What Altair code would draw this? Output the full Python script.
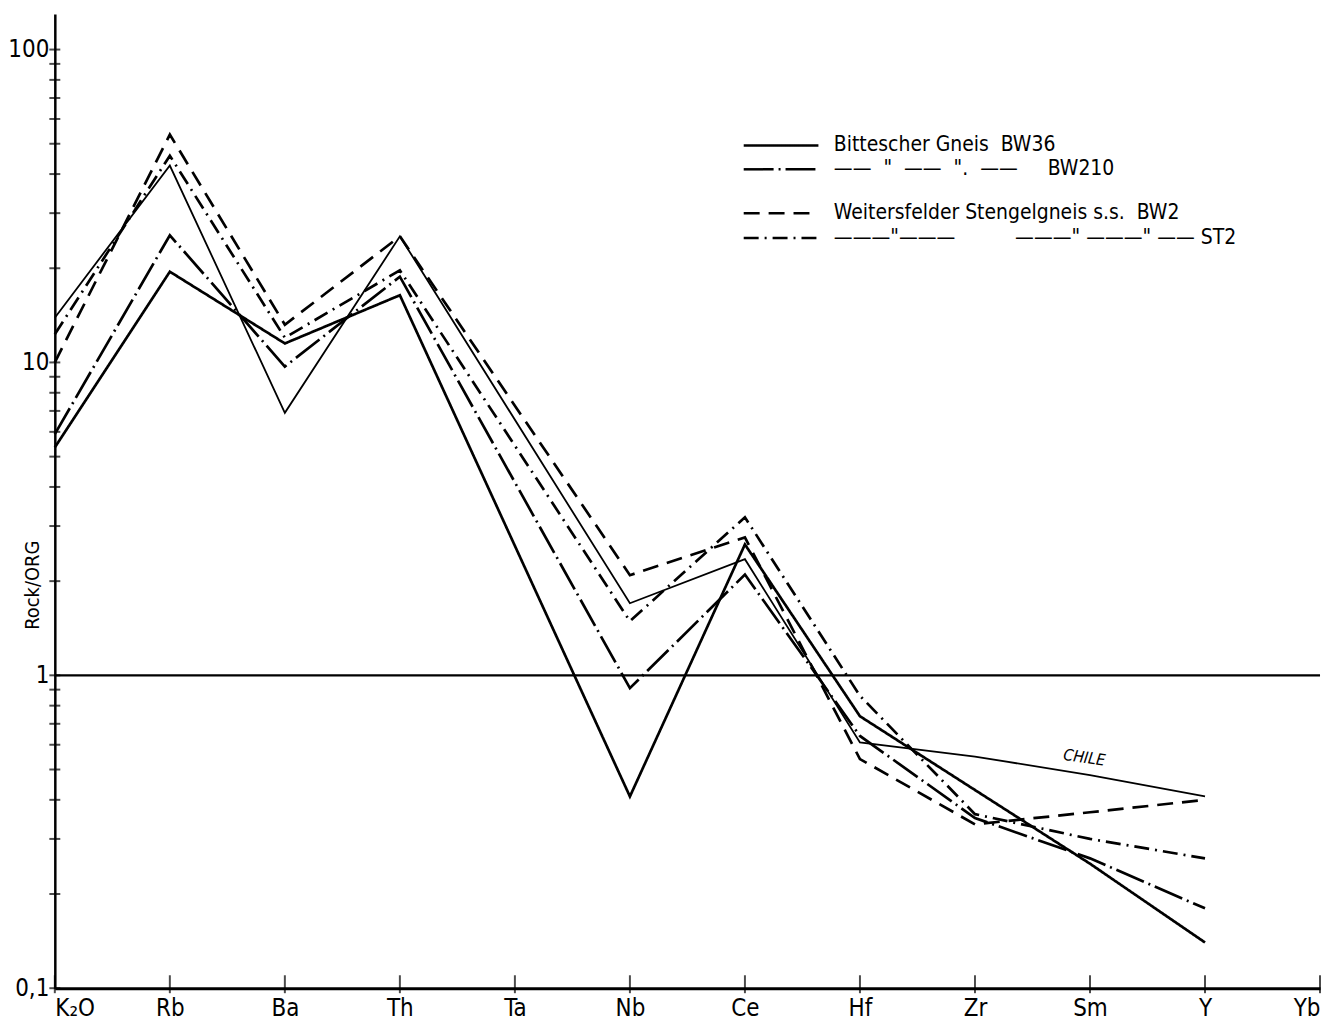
import altair as alt
import pandas as pd

# ---- data ----
categories = ["K₂O", "Rb", "Ba", "Th", "Ta", "Nb", "Ce", "Hf", "Zr", "Sm", "Y", "Yb"]
plotted = ["K₂O", "Rb", "Ba", "Th", "Nb", "Ce", "Hf", "Zr", "Sm", "Y"]

bw36 = [5.35, 19.5, 11.5, 16.4, 0.41, 2.62, 0.74, 0.43, 0.25, 0.14]
bw210 = [5.9, 25.5, 9.7, 18.8, 0.91, 2.10, 0.64, 0.35, 0.26, 0.18]
bw2 = [10.0, 53.5, 13.2, 25.3, 2.09, 2.76, 0.54, 0.334, 0.365, 0.40]
st2 = [12.3, 45.8, 12.0, 19.7, 1.49, 3.20, 0.86, 0.36, 0.30, 0.26]
chile = [13.9, 42.6, 6.9, 25.3, 1.70, 2.35, 0.61, 0.55, 0.48, 0.41]

y_ticks = [0.1, 0.2, 0.3, 0.4, 0.5, 0.6, 0.7, 0.8, 0.9,
           1, 2, 3, 4, 5, 6, 7, 8, 9,
           10, 20, 30, 40, 50, 60, 70, 80, 90, 100]

NB = "\u00a0"
legend_labels = {
    "BW36": "Bittescher Gneis" + NB * 2 + "BW36",
    "BW210": "——" + NB * 2 + "\"" + NB * 2 + "——" + NB * 2 + "\"." + NB * 2 + "——" + NB * 5 + "BW210",
    "BW2": "Weitersfelder Stengelgneis s.s." + NB * 2 + "BW2",
    "ST2": "———\"———" + NB * 10 + "———\"" + NB + "———\"" + NB + "——" + NB + "ST2",
}

FONT = "DejaVu Sans Condensed, Liberation Sans Narrow, DejaVu Sans, sans-serif"
W, H = 1270, 978


def frame(key, vals):
    return pd.DataFrame({"series": key,
                         "idx": [categories.index(c) for c in plotted],
                         "value": vals})


cat_js = "[" + ",".join("'" + c + "'" for c in categories) + "]"

xenc = alt.X("idx:Q",
             scale=alt.Scale(domain=[0, 11], nice=False, zero=False),
             axis=alt.Axis(values=list(range(12)), labelExpr=cat_js + "[datum.value]",
                           ticks=False, grid=False, title=None, domainWidth=3,
                           domainColor="black", labelFontSize=24, labelFont=FONT,
                           labelColor="black", labelPadding=8))
yenc = alt.Y("value:Q",
             scale=alt.Scale(type="log", domain=[0.1, 130], nice=False),
             axis=alt.Axis(values=[0.1, 1, 10, 100],
                           labelExpr="datum.value < 0.5 ? '0,1' : datum.value < 5 ? '1' : datum.value < 50 ? '10' : '100'",
                           ticks=False, grid=False, title="Rock/ORG",
                           titleFont=FONT, titleFontSize=20, titleFontWeight="normal",
                           titleColor="black", titleX=-12, titleY=573,
                           domainWidth=2.5, domainColor="black",
                           labelFontSize=24, labelFont=FONT, labelColor="black",
                           labelPadding=6))


def series_layer(key, vals, dash, legend_y, width=2.7):
    leg = alt.Legend(title=None, orient="none", legendX=690, legendY=legend_y,
                     symbolType="stroke", symbolSize=5625, symbolStrokeWidth=2.5,
                     symbolStrokeColor="black", labelFontSize=21, labelFont=FONT,
                     labelColor="black", labelOffset=14, padding=0,
                     labelLimit=700, labelExpr="'" + legend_labels[key] + "'")
    return alt.Chart(frame(key, vals)).mark_line(color="black", strokeWidth=width).encode(
        x=xenc, y=yenc,
        strokeDash=alt.StrokeDash("series:N",
                                  scale=alt.Scale(domain=[key], range=[dash]),
                                  legend=leg),
    )


l_bw36 = series_layer("BW36", bw36, [1, 0], 93)
l_bw210 = series_layer("BW210", bw210, [30, 5, 2, 5], 117)
l_bw2 = series_layer("BW2", bw2, [16, 9], 161)
l_st2 = series_layer("ST2", st2, [15, 6, 2, 6], 186)

l_chile = alt.Chart(frame("CHILE", chile)).mark_line(color="black", strokeWidth=1.8).encode(
    x=xenc, y=yenc)

one_line = alt.Chart(pd.DataFrame({"value": [1]})).mark_rule(
    color="black", strokeWidth=2.2).encode(y=yenc)

chile_label = alt.Chart(pd.DataFrame({"idx": [8.95], "value": [0.545], "t": ["CHILE"]})).mark_text(
    angle=8, fontStyle="italic", fontSize=16, font=FONT, color="black").encode(
    x=xenc, y=yenc, text="t:N")

y_tick_marks = alt.Chart(pd.DataFrame({"value": y_ticks})).mark_tick(
    orient="horizontal", size=11, thickness=2, color="black").encode(
    y=yenc, x=alt.value(0))

x_tick_marks = alt.Chart(pd.DataFrame({"idx": list(range(12))})).mark_tick(
    orient="vertical", size=18, thickness=2, color="black").encode(
    x=xenc, y=alt.value(H - 4))

chart = alt.layer(one_line, l_chile, l_bw36, l_bw210, l_bw2, l_st2, chile_label,
                  y_tick_marks, x_tick_marks).resolve_scale(
    strokeDash="independent"
).properties(
    width=W, height=H,
    autosize=alt.AutoSizeParams(type="none"),
    padding={"left": 47, "top": 4, "right": 6, "bottom": 34},
    background="white",
).configure_view(stroke=None)

chart.save("out.html", embed_options={"renderer": "svg", "actions": False})
